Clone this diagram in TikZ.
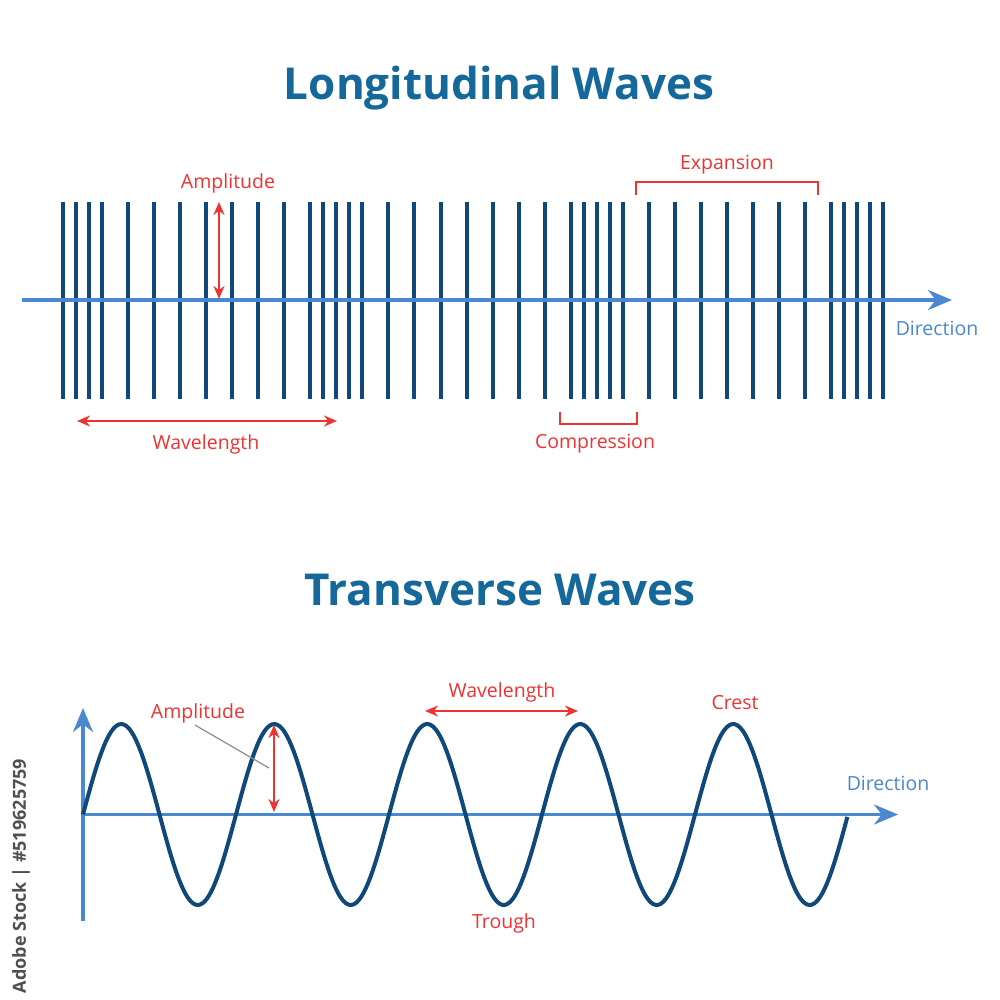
\documentclass[tikz,border=0pt]{standalone}
\usepackage{fontspec}
\setmainfont{Open Sans}
\usetikzlibrary{arrows.meta,positioning}
\definecolor{barblue}{HTML}{10487A}
\definecolor{axisblue}{HTML}{4A88CF}
\definecolor{titleblue}{HTML}{15689A}
\definecolor{labelred}{HTML}{EE3333}
\definecolor{stockgray}{HTML}{505050}
\definecolor{leadergray}{HTML}{8C8C8C}
\tikzset{
  title/.style={inner sep=0pt,text=titleblue,font=\fontsize{44}{44}\selectfont\bfseries},
  label/.style={inner sep=0pt,text=labelred,font=\fontsize{19.5}{19.5}\selectfont},
  dirlabel/.style={inner sep=0pt,text=axisblue,font=\fontsize{19.5}{19.5}\selectfont},
  axis/.style={draw=axisblue,line width=3.5pt,-{Stealth[length=24pt,width=20pt]}},
  bar/.style={draw=barblue,line width=4pt},
  wave/.style={draw=barblue,line width=4pt,line join=round},
  measure/.style={draw=labelred,line width=2.5pt,{Stealth[length=13pt,width=11pt]}-{Stealth[length=13pt,width=11pt]}},
  bracket/.style={draw=labelred,line width=2pt},
  leader/.style={draw=leadergray,line width=1.2pt}
}

\begin{document}
\begin{tikzpicture}[x=1pt,y=-1pt]
    \useasboundingbox[fill=white] (0,0) rectangle (1000,1000);
    \node[title] (longtitle) at (499,88) {Longitudinal Waves};
    \node[title] (transtitle) at (500,590) {Transverse Waves};
    \node[inner sep=0pt,text=stockgray,rotate=90,font=\fontsize{18}{18}\selectfont\bfseries] (stock) at (21,876) {Adobe Stock | \#519625759};

    \coordinate (laxisstart) at (22,300);
    \coordinate (laxisend) at (952,300);
    \foreach \bx in {63,76,89,102,128,154,180,206,232,258,284,310,323,336,349,362,388,414,441,467,493,519,545,571,584,597,610,623,649,675,701,727,753,779,805,831,844,857,870,883}
      \draw[bar] (\bx,202) -- (\bx,399);
    \draw[axis] (laxisstart) -- (laxisend);
    \node[dirlabel] (ldir) at (937,328) {Direction};

    \node[label] (lamp) at (228,183) {Amplitude};
    \coordinate (lamptop) at (219,202);
    \coordinate (lampbot) at (219,299);
    \draw[measure] (lamptop) -- (lampbot);

    \coordinate (lwlleft) at (77,421);
    \coordinate (lwlright) at (337,421);
    \draw[measure] (lwlleft) -- (lwlright);
    \node[label] (lwl) at (206,444) {Wavelength};

    \coordinate (compa) at (560,412);
    \coordinate (compb) at (637,412);
    \draw[bracket] (compa) -- ++(0,12) -| (compb);
    \node[label] (comp) at (595,444) {Compression};

    \coordinate (expa) at (636,195);
    \coordinate (expb) at (818,195);
    \draw[bracket] (expa) -- ++(0,-13) -| (expb);
    \node[label] (exp) at (727,165) {Expansion};

    \coordinate (torigin) at (83,814.5);
    \coordinate (tvbot) at (83,921);
    \coordinate (tvtop) at (83,708);
    \coordinate (thend) at (898,814.5);
    \draw[axis] (tvbot) -- (tvtop);
    \draw[axis] (torigin) -- (thend);
    \draw[wave] plot[domain=0:5,samples=300,smooth] ({83+153*\x},{814.5-90.5*sin(360*\x)});
    \node[dirlabel] (tdir) at (888,783) {Direction};

    \node[label] (tamp) at (198,713) {Amplitude};
    \coordinate (tamptop) at (274,725);
    \coordinate (tampbot) at (274,812);
    \draw[measure] (tamptop) -- (tampbot);
    \coordinate (tleadend) at (269,768);
    \draw[leader] (195,725) -- (tleadend);

    \coordinate (twlleft) at (425,711);
    \coordinate (twlright) at (578,711);
    \draw[measure] (twlleft) -- (twlright);
    \node[label] (twl) at (502,692) {Wavelength};

    \node[label] (crest) at (735,703) {Crest};
    \node[label] (trough) at (504,923) {Trough};
\end{tikzpicture}
\end{document}
